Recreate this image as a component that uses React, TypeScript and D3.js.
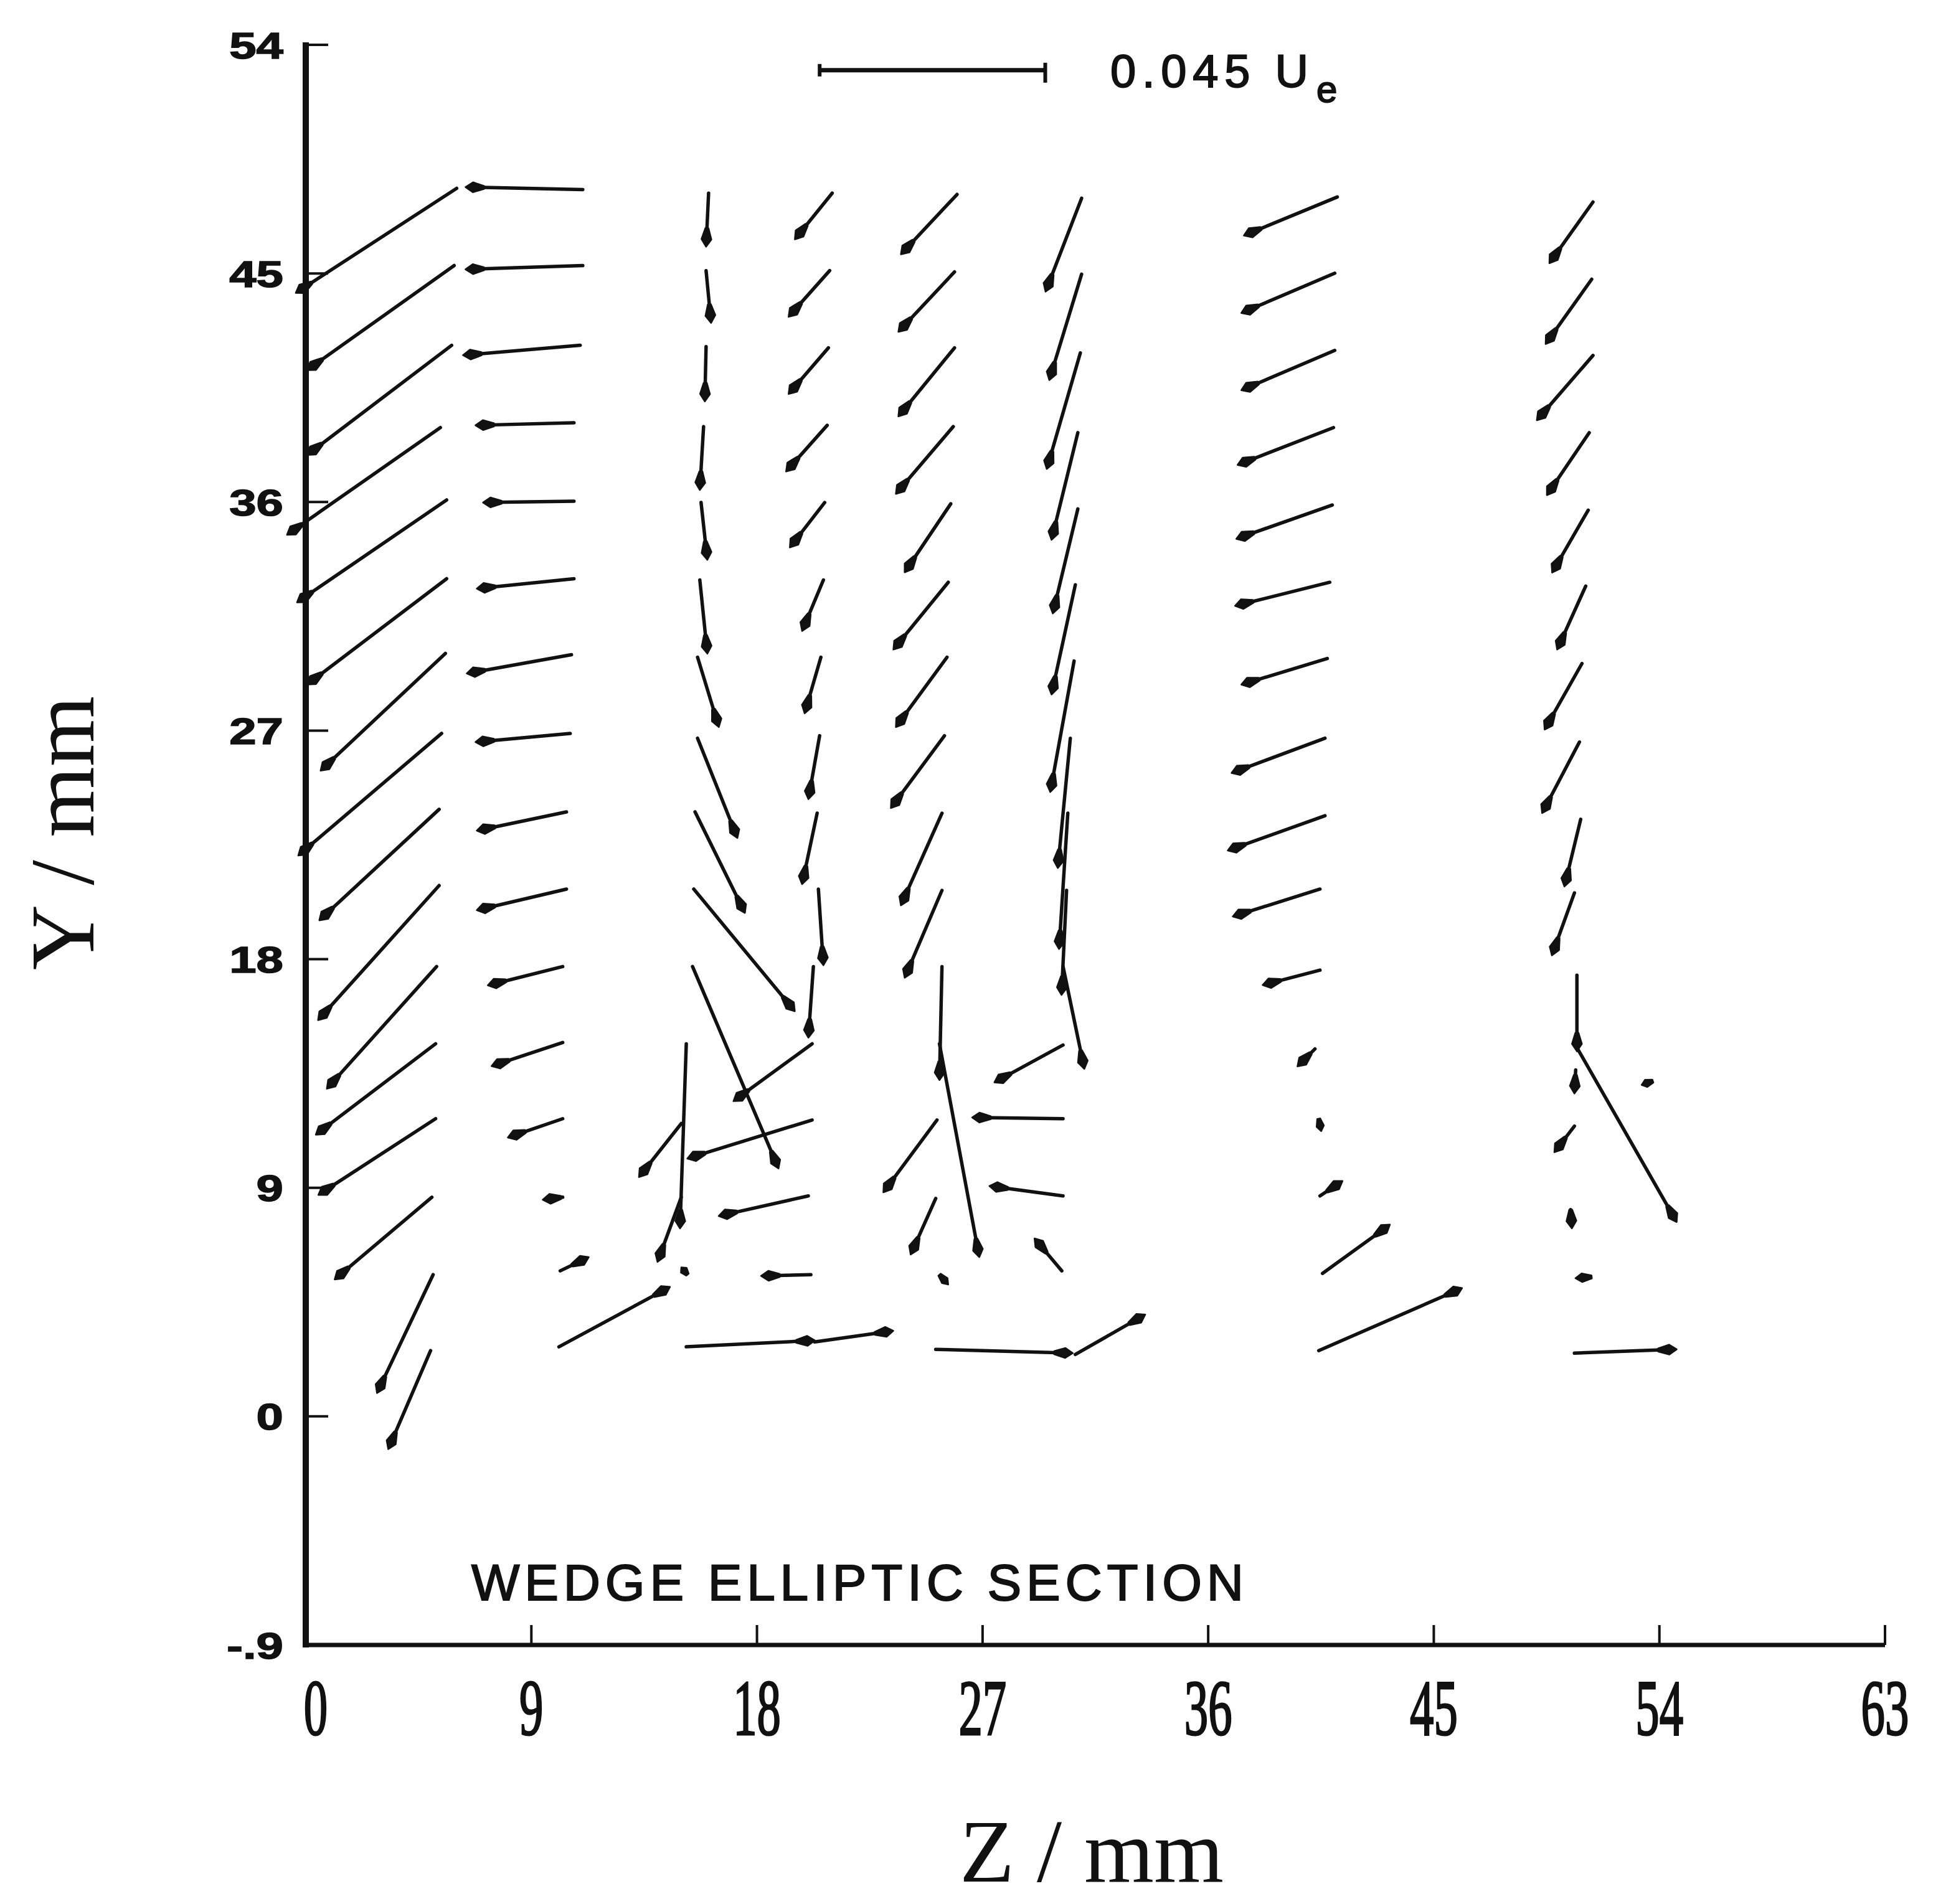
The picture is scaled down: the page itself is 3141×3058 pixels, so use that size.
import React from 'react';
import * as d3 from 'd3';

// secondary-flow vectors, tail position (Z, Y) in mm and drawn vector (dZ, dY) in mm
// plot scale: 9 mm of arrow = 0.045 Ue
const REF_UE = 0.045;
const REF_LEN = 9;

type Vec = [number, number, number, number];

const colZ5: Vec[] = [
  [6.02, 48.35, -6.42, -4.12],
  [5.92, 45.31, -5.87, -4.12],
  [5.82, 42.17, -5.77, -4.32],
  [5.37, 38.93, -6.12, -4.22],
  [5.62, 36.08, -5.97, -4.03],
  [5.62, 32.98, -5.57, -4.17],
  [5.57, 30.04, -4.98, -4.62],
  [5.42, 26.89, -5.72, -4.81],
  [5.32, 23.9, -4.78, -4.37],
  [5.32, 20.9, -4.83, -5.3],
  [5.22, 17.71, -4.38, -4.81],
  [5.18, 14.67, -4.78, -3.58],
  [5.18, 11.72, -4.68, -3.0],
  [5.03, 8.63, -3.88, -3.24],
  [5.08, 5.58, -2.24, -4.66],
  [4.98, 2.59, -1.69, -3.88],
];

const colZ10: Vec[] = [
  [11.05, 48.3, -4.68, 0.1],
  [11.05, 45.31, -4.68, -0.15],
  [10.95, 42.17, -4.68, -0.39],
  [10.7, 39.12, -3.93, -0.1],
  [10.7, 36.03, -3.63, -0.05],
  [10.7, 32.98, -3.88, -0.39],
  [10.6, 29.99, -4.18, -0.74],
  [10.55, 26.89, -3.78, -0.34],
  [10.4, 23.8, -3.58, -0.74],
  [10.4, 20.76, -3.58, -0.83],
  [10.25, 17.71, -2.99, -0.74],
  [10.25, 14.72, -2.84, -0.93],
  [10.25, 11.72, -2.19, -0.74],
  [10.25, 8.63, -0.8, -0.1],
  [10.15, 5.73, 1.14, 0.54],
  [10.1, 2.74, 4.43, 2.36],
];

const colZ15: Vec[] = [
  [16.07, 48.16, -0.1, -2.11],
  [15.97, 45.11, 0.2, -2.06],
  [15.97, 42.12, -0.05, -2.16],
  [15.87, 38.97, -0.15, -2.5],
  [15.77, 35.98, 0.25, -2.26],
  [15.72, 32.93, 0.3, -2.9],
  [15.63, 29.89, 0.85, -2.75],
  [15.63, 26.7, 1.59, -3.93],
  [15.53, 23.8, 1.99, -3.98],
  [15.48, 20.76, 4.03, -4.81],
  [15.43, 17.71, 3.43, -7.95],
  [15.18, 14.67, -0.25, -7.27],
  [14.98, 11.53, -1.69, -2.11],
  [14.98, 8.63, -0.95, -2.55],
  [15.23, 5.58, -0.25, 0.29],
  [15.18, 2.74, 5.13, 0.25],
];

const colZ20: Vec[] = [
  [21.0, 48.16, -1.49, -1.82],
  [20.9, 45.11, -1.64, -1.82],
  [20.85, 42.07, -1.59, -1.82],
  [20.8, 39.02, -1.64, -1.82],
  [20.7, 35.98, -1.39, -1.77],
  [20.65, 32.93, -0.85, -2.01],
  [20.55, 29.89, -0.65, -2.21],
  [20.5, 26.8, -0.45, -2.5],
  [20.4, 23.75, -0.6, -2.8],
  [20.45, 20.76, 0.2, -3.0],
  [20.25, 17.71, -0.2, -2.8],
  [20.2, 14.67, -3.14, -2.26],
  [20.2, 11.67, -4.98, -1.52],
  [20.05, 8.68, -3.58, -0.79],
  [20.15, 5.58, -1.99, -0.05],
  [20.3, 2.93, 3.14, 0.44],
];

const colZ25: Vec[] = [
  [25.98, 48.11, -2.24, -2.36],
  [25.88, 45.06, -2.24, -2.36],
  [25.88, 42.07, -2.24, -2.7],
  [25.83, 38.97, -2.29, -2.65],
  [25.73, 35.93, -1.84, -2.7],
  [25.63, 32.84, -2.19, -2.65],
  [25.58, 29.89, -2.04, -2.75],
  [25.48, 26.8, -2.14, -2.85],
  [25.38, 23.75, -1.64, -3.63],
  [25.38, 20.71, -1.49, -3.44],
  [25.38, 17.71, -0.1, -4.47],
  [25.28, 14.67, 1.59, -8.4],
  [25.18, 11.67, -2.14, -2.85],
  [25.13, 8.58, -1.0, -2.21],
  [25.28, 5.58, 0.35, -0.39],
  [25.13, 2.64, 5.47, -0.15],
];

const colZ30: Vec[] = [
  [30.95, 47.96, -1.44, -3.68],
  [30.95, 44.97, -1.29, -4.17],
  [30.9, 41.87, -1.34, -4.57],
  [30.8, 38.73, -1.05, -4.22],
  [30.8, 35.73, -1.0, -4.12],
  [30.7, 32.74, -0.95, -4.32],
  [30.65, 29.74, -0.95, -5.16],
  [30.5, 26.7, -0.5, -5.11],
  [30.4, 23.75, -0.35, -5.35],
  [30.35, 20.71, -0.2, -4.12],
  [30.21, 17.71, 0.85, -4.03],
  [30.21, 14.62, -2.74, -1.47],
  [30.21, 11.72, -3.63, 0.05],
  [30.21, 8.68, -2.94, 0.39],
  [30.16, 5.73, -1.09, 1.28],
  [30.7, 2.44, 2.79, 1.57],
];

const colZ40: Vec[] = [
  [41.15, 48.01, -3.73, -1.52],
  [41.05, 45.01, -3.73, -1.57],
  [41.05, 41.97, -3.73, -1.57],
  [41.0, 38.93, -3.83, -1.47],
  [40.95, 35.88, -3.83, -1.33],
  [40.85, 32.84, -3.78, -0.93],
  [40.75, 29.84, -3.43, -1.03],
  [40.66, 26.7, -3.73, -1.37],
  [40.66, 23.65, -3.88, -1.37],
  [40.46, 20.76, -3.48, -1.08],
  [40.46, 17.57, -2.29, -0.59],
  [40.26, 14.47, -0.7, -0.69],
  [40.41, 11.72, 0.1, -0.49],
  [40.46, 8.68, 0.9, 0.59],
  [40.56, 5.63, 2.69, 1.92],
  [40.41, 2.59, 5.72, 2.46],
];

const colZ50: Vec[] = [
  [51.35, 47.81, -1.74, -2.41],
  [51.3, 44.77, -1.84, -2.55],
  [51.35, 41.77, -2.24, -2.55],
  [51.2, 38.73, -1.69, -2.46],
  [51.16, 35.68, -1.44, -2.46],
  [51.06, 32.69, -1.14, -2.5],
  [50.91, 29.64, -1.49, -2.6],
  [50.81, 26.55, -1.49, -2.8],
  [50.86, 23.51, -0.65, -2.65],
  [50.61, 20.61, -0.9, -2.46],
  [50.71, 17.37, 0, -3.0],
  [50.71, 14.52, 3.98, -6.87],
  [50.66, 13.64, -0.05, -0.93],
  [50.61, 11.43, -0.8, -1.03],
  [50.46, 8.14, 0.05, -0.74],
  [51.3, 5.49, -0.65, -0.05],
  [50.61, 2.49, 4.08, 0.15],
  [53.74, 13.2, -0.45, -0.15],
];

const xTicks = [0, 9, 18, 27, 36, 45, 54, 63];
const yTicks = [54, 45, 36, 27, 18, 9, 0, -9];
const yTickLabels = ['54', '45', '36', '27', '18', '9', '0', '-.9'];

const W = 3141;
const H = 3058;

const xScale = d3.scaleLinear().domain([0, 63]).range([491, 3027]);
const yScale = d3.scaleLinear().domain([-9, 54]).range([2642, 72]);

const INK = '#111';
const SERIF = "'Liberation Serif', 'Times New Roman', serif";
const SANS = "'Liberation Sans', Arial, sans-serif";

function Arrow({ v }: { v: Vec }) {
  const [z, y, dz, dy] = v;
  const x1 = xScale(z), y1 = yScale(y);
  const x2 = xScale(z + dz), y2 = yScale(y + dy);
  const len = Math.hypot(x2 - x1, y2 - y1) || 1;
  const ux = (x2 - x1) / len, uy = (y2 - y1) / len;
  const nx = -uy, ny = ux;
  const L = Math.min(30, Math.max(len, 14));
  const hw = 8 * Math.max(0.75, Math.min(1, L / 30));
  const ax = x2 - ux * L * 0.4, ay = y2 - uy * L * 0.4;
  const bx = x2 - ux * L, by = y2 - uy * L;
  const head = `M${x2},${y2} L${ax + nx * hw},${ay + ny * hw} L${bx + nx * 2.5},${by + ny * 2.5} L${bx - nx * 2.5},${by - ny * 2.5} L${ax - nx * hw},${ay - ny * hw} Z`;
  return (
    <g>
      {len > L && (
        <line x1={x1} y1={y1} x2={x2 - ux * L * 0.6} y2={y2 - uy * L * 0.6}
          stroke={INK} strokeWidth={5.5} strokeLinecap="round" />
      )}
      <path d={head} fill={INK} stroke={INK} strokeWidth={2.5} strokeLinejoin="round" />
    </g>
  );
}

export default function App() {
  const columns = [colZ5, colZ10, colZ15, colZ20, colZ25, colZ30, colZ40, colZ50];
  const x0 = xScale(0);
  const yb = yScale(-9);
  const legendY = yScale(53);
  const lx1 = xScale(20.5), lx2 = xScale(20.5 + REF_LEN);

  return (
    <svg width={W} height={H} style={{ position: 'absolute', left: 0, top: 0, background: '#fff' }}>
      <rect width={W} height={H} fill="#fff" />

      {/* axes */}
      <line x1={x0} y1={yb + 4} x2={x0} y2={yScale(54) - 4} stroke={INK} strokeWidth={10} />
      <line x1={x0} y1={yb} x2={xScale(63)} y2={yb} stroke={INK} strokeWidth={7} />

      {yTicks.filter(t => t > -9).map(t => (
        <line key={'yt' + t} x1={x0} x2={x0 + 36} y1={yScale(t)} y2={yScale(t)} stroke={INK} strokeWidth={4} />
      ))}
      {xTicks.filter(t => t > 0).map(t => (
        <line key={'xt' + t} x1={xScale(t)} x2={xScale(t)} y1={yb} y2={yb - 32} stroke={INK} strokeWidth={4} />
      ))}

      {yTicks.map((t, i) => (
        <text key={'yl' + t} transform={`translate(${x0 - 36},${yScale(t)}) scale(1.3,1)`}
          textAnchor="end" dy="0.36em" fontFamily={SANS}
          fontWeight="bold" fontSize={60} fill={INK} stroke={INK} strokeWidth={1.5}>{yTickLabels[i]}</text>
      ))}
      {xTicks.map(t => (
        <text key={'xl' + t} transform={`translate(${xScale(t) + (t === 0 ? 16 : 0)},${yb + 144}) scale(0.6,1)`}
          textAnchor="middle" fontFamily={SERIF}
          fontSize={128} fill={INK} stroke={INK} strokeWidth={3}>{t}</text>
      ))}

      {/* axis titles */}
      <text x={1753} y={3022} textAnchor="middle" fontFamily={SERIF}
        fontSize={144} fill={INK}>Z / mm</text>
      <text transform="translate(150,1338) rotate(-90)" textAnchor="middle"
        fontFamily={SERIF} fontSize={146} fill={INK}>Y / mm</text>

      <text x={757} y={2570} fontFamily={SANS} fontSize={82}
        textLength={1240} lengthAdjust="spacing" fill={INK} stroke={INK} strokeWidth={2}>WEDGE ELLIPTIC SECTION</text>

      {/* reference vector */}
      <line x1={lx1} y1={legendY} x2={lx2} y2={legendY} stroke={INK} strokeWidth={7} />
      <line x1={lx1} y1={legendY - 10} x2={lx1} y2={legendY + 10} stroke={INK} strokeWidth={6} />
      <line x1={lx2} y1={legendY - 12} x2={lx2} y2={legendY + 20} stroke={INK} strokeWidth={6} />
      <text x={1783} y={140} fontFamily={SANS} fontSize={74}
        textLength={318} lengthAdjust="spacing" fill={INK} stroke={INK} strokeWidth={2}>{`${REF_UE} U`}</text>
      <text x={2114} y={164} fontFamily={SANS} fontSize={60} fill={INK} stroke={INK} strokeWidth={2}>e</text>

      {/* vectors */}
      {columns.map((col, ci) => (
        <g key={'c' + ci}>
          {col.map((v, i) => <Arrow key={i} v={v} />)}
        </g>
      ))}
    </svg>
  );
}
